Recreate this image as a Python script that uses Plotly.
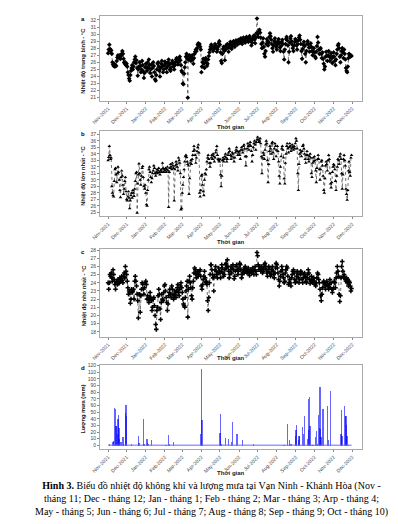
import plotly.graph_objects as go
import pandas as pd

# ---------------- data ----------------
start_date = "2021-11-01"
month_lengths = [30, 31, 31, 28, 31, 30, 31, 30, 31, 31, 30, 31, 30]

tavg = [
    27.3, 27.8, 28.5, 27.9, 27.6, 27.7, 27.2, 26.0, 25.7, 25.5, 25.8, 25.4, 25.6, 25.5, 26.2, 26.7, 27.0, 26.8, 26.6, 27.0, 26.5, 26.9, 27.2, 27.6, 27.2, 26.5, 26.0, 25.8, 26.0, 25.6,
    25.8, 25.4, 24.6, 24.2, 23.7, 23.4, 24.2, 24.8, 25.2, 25.6, 25.0, 25.4, 26.0, 26.4, 26.8, 25.9, 26.3, 25.2, 24.1, 25.0, 25.4, 26.0, 25.5, 24.6, 25.0, 26.2, 25.6, 24.7, 23.8, 24.5, 25.3,
    25.8, 25.3, 24.8, 26.0, 25.2, 26.4, 25.6, 24.5, 25.0, 25.7, 24.0, 25.2, 26.0, 25.5, 24.6, 23.6, 23.4, 24.2, 25.0, 25.8, 26.0, 25.4, 24.8, 24.0, 25.2, 25.8, 26.2, 25.5, 24.6, 25.0, 25.6,
    26.1, 25.8, 25.2, 24.6, 25.4, 26.0, 26.4, 25.7, 25.0, 24.8, 25.3, 25.9, 26.2, 25.8, 25.4, 25.0, 25.6, 26.0, 26.4, 26.6, 26.2, 25.7, 26.0, 26.5, 26.8, 26.3, 25.6, 24.8,
    24.6, 23.0, 22.9, 24.4, 25.3, 26.0, 26.8, 27.2, 26.5, 21.0, 26.4, 26.9, 27.0, 26.6, 26.2, 26.7, 27.0, 26.4, 25.8, 26.6, 27.2, 27.5, 27.8, 27.6, 28.0, 28.5, 28.7, 28.4, 28.6, 28.2, 27.8,
    24.6, 25.4, 26.0, 26.5, 25.8, 25.2, 26.3, 26.6, 26.0, 25.5, 25.8, 26.4, 26.9, 27.4, 27.8, 28.2, 28.5, 28.3, 28.0, 27.6, 27.9, 28.2, 28.6, 28.4, 28.0, 27.5, 27.8, 28.2, 28.7, 29.0,
    28.5, 27.4, 26.2, 25.9, 27.2, 27.9, 28.2, 27.6, 26.3, 27.8, 28.4, 28.0, 28.6, 28.2, 27.5, 28.1, 28.6, 28.9, 28.4, 27.9, 28.3, 28.8, 29.0, 28.6, 28.2, 28.7, 29.1, 28.8, 28.5, 28.9, 29.2,
    29.0, 28.7, 29.2, 29.4, 28.9, 28.6, 29.1, 29.5, 29.3, 29.0, 28.8, 29.3, 29.6, 29.4, 29.1, 28.9, 29.5, 29.7, 29.4, 29.0, 28.4, 28.8, 29.3, 29.6, 29.8, 29.2, 28.7, 29.5, 30.1, 32.2,
    30.0, 29.6, 30.4, 30.6, 30.2, 29.5, 28.6, 28.0, 28.8, 29.4, 28.2, 27.2, 26.8, 27.6, 28.6, 29.3, 29.0, 28.4, 28.8, 29.6, 30.1, 29.7, 29.2, 28.6, 28.0, 27.5, 28.4, 29.0, 29.4, 28.8, 28.2,
    27.8, 28.5, 29.0, 29.3, 28.7, 28.1, 27.6, 28.3, 28.9, 29.2, 28.6, 27.5, 26.4, 27.8, 28.6, 29.3, 29.6, 29.1, 28.4, 26.0, 27.5, 28.8, 29.4, 29.7, 29.0, 28.5, 28.0, 27.6, 28.4, 28.9, 29.3,
    29.0, 28.4, 27.8, 28.6, 29.1, 29.5, 29.8, 29.2, 28.6, 27.6, 26.5, 27.9, 28.5, 28.9, 28.3, 27.2, 26.0, 27.6, 28.6, 29.0, 28.6, 28.1, 27.5, 28.2, 28.7, 28.2, 27.6, 27.0, 27.5, 28.0,
    27.4, 26.8, 26.6, 27.5, 28.3, 29.6, 28.8, 27.8, 27.2, 27.8, 28.0, 27.2, 26.6, 27.4, 26.5, 25.8, 25.0, 25.4, 26.8, 27.5, 26.9, 26.2, 27.0, 27.6, 26.8, 26.2, 26.8, 27.3, 26.6, 25.9, 26.8,
    27.4, 26.8, 26.2, 25.6, 26.4, 27.2, 27.8, 28.4, 28.6, 28.0, 26.8, 26.0, 27.0, 27.6, 28.0, 27.4, 26.6, 27.8, 27.2, 26.4, 25.2, 24.8, 24.6, 25.4, 26.6, 27.2, 27.0, 26.8, 27.0, 26.9,
]

tmax = [
    33.0, 33.5, 35.2, 33.8, 33.2, 33.4, 29.0, 28.0, 27.6, 27.4, 29.8, 31.6, 31.8, 30.8, 29.6, 31.0, 32.0, 31.2, 30.0, 28.4, 27.3, 30.4, 31.4, 30.6, 29.2, 27.8, 28.6, 29.8, 30.4, 28.2,
    27.0, 26.8, 27.4, 28.2, 27.2, 25.6, 26.8, 27.6, 28.0, 27.2, 28.4, 28.0, 27.5, 28.6, 29.8, 31.0, 31.2, 24.9, 29.4, 30.8, 32.5, 31.0, 30.0, 29.2, 30.6, 31.8, 32.1, 30.4, 29.0, 28.6, 29.2,
    28.0, 26.2, 26.0, 28.4, 30.0, 31.6, 32.0, 31.2, 30.4, 29.6, 30.2, 31.0, 31.4, 32.2, 31.8, 31.0, 30.6, 31.2, 31.6, 31.0, 31.4, 31.8, 31.2, 30.8, 31.4, 31.6, 31.2, 32.6, 31.8, 31.2, 31.6,
    31.4, 31.8, 31.2, 31.6, 32.0, 31.4, 25.8, 31.2, 31.8, 32.4, 32.0, 31.6, 32.6, 32.2, 31.8, 26.8, 31.6, 32.2, 32.8, 32.4, 32.0, 31.4, 33.4, 33.0, 32.6, 31.0, 25.4, 25.6,
    28.0, 29.2, 30.4, 31.6, 32.8, 33.6, 33.8, 33.5, 32.8, 32.4, 32.2, 27.8, 30.2, 32.6, 33.0, 32.4, 33.2, 33.8, 34.4, 35.2, 34.6, 33.8, 32.6, 33.4, 34.4, 35.0, 35.4, 34.2, 28.0, 27.4, 28.4,
    30.6, 30.8, 29.2, 28.2, 27.6, 30.0, 31.0, 30.8, 31.6, 32.8, 33.4, 33.8, 33.2, 32.6, 32.0, 32.6, 33.4, 33.8, 33.2, 34.0, 33.6, 32.8, 33.4, 34.2, 34.6, 35.2, 33.8, 33.2, 33.0, 32.8,
    33.2, 30.8, 29.0, 30.6, 33.0, 33.4, 32.8, 33.2, 33.6, 34.0, 33.4, 32.8, 33.2, 33.8, 34.2, 34.8, 34.4, 33.8, 33.2, 33.6, 34.2, 34.0, 33.4, 32.8, 33.4, 34.2, 34.6, 35.0, 34.4, 33.8, 34.2,
    34.4, 33.8, 33.2, 34.6, 35.0, 34.6, 34.2, 35.2, 35.4, 34.8, 33.6, 32.2, 33.6, 34.8, 35.6, 35.2, 34.6, 35.4, 35.8, 35.2, 34.4, 32.8, 33.8, 35.0, 35.6, 36.0, 35.4, 34.6, 35.8, 36.2,
    36.6, 36.2, 35.8, 36.0, 36.4, 35.6, 33.6, 31.0, 33.4, 34.2, 33.8, 33.2, 34.6, 35.4, 36.0, 35.6, 33.0, 29.6, 32.4, 34.4, 35.2, 34.8, 34.0, 35.6, 35.8, 34.2, 33.2, 34.8, 35.6, 35.2, 33.6,
    34.6, 35.2, 34.4, 32.8, 30.6, 29.4, 32.0, 33.6, 34.8, 35.2, 34.6, 33.4, 30.2, 29.4, 32.6, 34.0, 35.2, 35.6, 34.8, 34.2, 35.0, 35.6, 35.2, 34.4, 34.8, 35.4, 35.0, 34.6, 35.2, 34.8, 35.6,
    36.4, 36.0, 34.8, 31.0, 28.4, 32.4, 34.0, 34.6, 34.2, 33.6, 34.4, 35.2, 35.4, 34.8, 34.0, 33.2, 32.6, 33.8, 34.4, 33.8, 33.2, 32.8, 33.6, 34.0, 33.4, 31.0, 30.4, 32.6, 33.4, 32.8,
    33.6, 33.0, 31.4, 29.6, 31.8, 33.2, 33.8, 33.2, 31.6, 30.0, 31.6, 32.8, 33.0, 32.2, 30.6, 28.4, 28.0, 30.2, 32.2, 32.8, 32.4, 31.4, 33.0, 33.8, 33.2, 31.0, 29.4, 28.8, 29.6, 31.2, 32.0,
    32.4, 32.2, 31.6, 29.8, 28.4, 30.6, 32.0, 33.2, 33.0, 32.4, 33.6, 34.0, 33.2, 31.0, 28.6, 30.8, 33.2, 33.8, 33.0, 32.2, 28.6, 27.8, 26.9, 28.4, 31.4, 32.8, 31.2, 30.6, 33.4, 33.8,
]

tmin = [
    24.0, 23.2, 24.0, 25.0, 24.8, 25.2, 24.6, 24.2, 25.6, 25.0, 24.4, 23.8, 23.2, 24.0, 24.2, 23.8, 24.4, 23.9, 24.0, 24.6, 24.2, 24.5, 24.8, 24.3, 24.0, 24.8, 25.2, 24.6, 26.0, 25.4,
    25.0, 24.2, 23.4, 22.6, 23.0, 22.8, 21.5, 22.0, 23.2, 22.8, 23.0, 23.2, 22.0, 24.2, 24.8, 24.2, 23.6, 22.6, 21.8, 19.7, 22.6, 22.6, 20.4, 22.4, 23.2, 24.0, 23.8, 23.2, 22.6, 23.4, 24.0,
    24.2, 23.8, 22.0, 22.4, 22.0, 21.6, 22.2, 22.8, 22.2, 21.8, 20.6, 21.0, 22.0, 22.2, 21.2, 20.0, 18.9, 18.3, 20.6, 21.0, 22.4, 23.2, 22.6, 20.8, 19.5, 21.6, 22.6, 22.0, 21.8, 22.8, 23.6,
    23.8, 23.0, 22.2, 21.6, 20.6, 21.4, 22.4, 22.8, 23.2, 22.6, 22.2, 23.6, 23.2, 22.6, 22.0, 22.4, 23.0, 22.6, 22.2, 23.0, 23.4, 23.8, 22.8, 22.4, 23.2, 23.6, 24.0, 23.4,
    22.8, 22.0, 21.4, 21.2, 21.0, 22.2, 23.0, 23.6, 24.2, 19.8, 23.2, 24.2, 24.8, 24.0, 23.4, 22.4, 22.0, 23.4, 24.2, 25.2, 25.8, 25.6, 25.0, 24.6, 25.2, 25.4, 24.8, 25.0, 25.4, 25.6, 24.8,
    23.6, 23.2, 23.8, 24.4, 24.8, 25.4, 24.6, 24.0, 24.2, 23.8, 21.8, 20.6, 22.2, 24.0, 25.0, 26.2, 26.2, 25.6, 25.0, 24.6, 23.0, 24.8, 25.6, 26.0, 25.4, 25.0, 24.6, 25.2, 25.8, 25.4,
    25.2, 24.6, 25.4, 26.2, 25.8, 25.2, 24.8, 25.0, 25.6, 26.2, 26.4, 25.8, 26.8, 26.0, 25.4, 24.6, 25.0, 25.6, 26.0, 25.2, 25.8, 26.2, 25.6, 24.5, 24.8, 25.4, 26.0, 26.2, 25.6, 25.0, 25.4,
    25.8, 26.4, 26.2, 25.6, 24.6, 25.0, 25.2, 25.6, 25.2, 25.8, 26.0, 25.6, 25.4, 25.2, 25.6, 25.8, 25.2, 24.9, 25.4, 25.6, 25.2, 25.5, 25.8, 25.4, 25.0, 25.6, 26.0, 25.4, 25.0, 27.7,
    27.3, 26.2, 25.6, 26.0, 25.8, 25.4, 26.0, 25.6, 25.2, 25.4, 25.8, 26.2, 26.4, 26.0, 25.6, 25.2, 24.8, 25.4, 26.0, 25.8, 25.2, 24.8, 25.0, 25.6, 26.0, 25.4, 25.0, 24.6, 25.2, 25.8, 26.4,
    26.2, 25.8, 25.2, 24.4, 23.6, 24.2, 24.8, 25.4, 26.0, 25.6, 25.0, 24.6, 24.0, 24.2, 25.2, 25.6, 26.0, 25.8, 24.8, 23.8, 24.0, 24.4, 24.0, 23.6, 24.6, 25.0, 25.4, 25.6, 25.2, 24.4, 24.0,
    24.2, 24.8, 25.4, 25.2, 24.6, 24.0, 24.4, 25.0, 25.4, 25.2, 24.4, 24.0, 24.6, 25.0, 25.2, 24.8, 24.2, 24.0, 24.6, 25.0, 25.6, 25.2, 24.4, 23.9, 24.2, 24.8, 24.4, 24.0, 24.2, 24.6,
    24.2, 23.8, 23.6, 24.0, 24.6, 25.2, 25.0, 24.4, 24.0, 23.2, 22.4, 21.8, 22.6, 23.4, 24.0, 24.2, 24.0, 23.6, 23.2, 23.8, 24.2, 23.9, 23.5, 23.2, 23.8, 24.4, 23.4, 24.0, 23.2, 22.8, 23.2,
    23.4, 24.2, 24.0, 23.4, 24.6, 25.2, 26.0, 25.4, 24.8, 22.6, 21.7, 22.4, 24.6, 26.0, 26.6, 25.4, 24.8, 25.0, 24.6, 24.4, 24.2, 24.6, 24.0, 24.4, 23.6, 24.2, 24.0, 23.6, 23.0, 23.3,
]

rain_dates = [
    "2021-11-03", "2021-11-09", "2021-11-10", "2021-11-11", "2021-11-13", "2021-11-14", "2021-11-15", "2021-11-16",
    "2021-11-17", "2021-11-18", "2021-11-19", "2021-11-20", "2021-11-22", "2021-11-25", "2021-11-26", "2021-11-29",
    "2021-11-30", "2021-12-01", "2021-12-09", "2021-12-20", "2021-12-21", "2021-12-28", "2021-12-29", "2022-01-03",
    "2022-01-04", "2022-01-05", "2022-01-10", "2022-02-03", "2022-02-07", "2022-02-09", "2022-02-15", "2022-03-31",
    "2022-04-01", "2022-04-02", "2022-05-01", "2022-05-02", "2022-05-03", "2022-05-10", "2022-05-15", "2022-05-20",
    "2022-05-21", "2022-05-29", "2022-06-07", "2022-06-24", "2022-08-13", "2022-08-18", "2022-08-22", "2022-08-24",
    "2022-08-31", "2022-09-01", "2022-09-02", "2022-09-05", "2022-09-06", "2022-09-07", "2022-09-12", "2022-09-13",
    "2022-09-15", "2022-09-20", "2022-09-21", "2022-09-22", "2022-09-23", "2022-09-24", "2022-09-27", "2022-09-29",
    "2022-10-03", "2022-10-04", "2022-10-06", "2022-10-08", "2022-10-09", "2022-10-10", "2022-10-11", "2022-10-12",
    "2022-10-15", "2022-10-22", "2022-10-24", "2022-10-27", "2022-11-13", "2022-11-14", "2022-11-15", "2022-11-19",
    "2022-11-20", "2022-11-21", "2022-11-22", "2022-11-23", "2022-11-25",
]
rain_mm = [
    2, 5, 7, 57, 56, 30, 30, 17,
    40, 46, 27, 10, 5, 13, 2, 49,
    62, 44, 3, 15, 4, 40, 3, 10,
    4, 2, 8, 1, 16, 2, 5, 18,
    116, 38, 19, 47, 3, 12, 10, 6,
    36, 18, 9, 3, 1, 32, 9, 2,
    14, 24, 31, 8, 15, 15, 28, 17,
    44, 10, 24, 70, 73, 30, 1, 1,
    13, 22, 2, 46, 27, 89, 25, 13,
    55, 60, 8, 83, 17, 53, 15, 60,
    44, 45, 31, 14, 1,
]

y_titles = ["Nhiệt độ trung bình - °C", "Nhiệt độ lớn nhất - °C", "Nhiệt độ nhỏ nhất - °C", "Lượng mưa (mm)"]
panel_letters = ["a", "b", "c", "d"]
x_title = "Thời gian"
caption = ("<b>Hình 3.</b> Biểu đồ nhiệt độ không khí và lượng mưa tại Vạn Ninh - Khánh Hòa (Nov -<br>"
           "tháng 11; Dec - tháng 12; Jan - tháng 1; Feb - tháng 2; Mar - tháng 3; Arp - tháng 4;<br>"
           "May - tháng 5; Jun - tháng 6; Jul - tháng 7; Aug - tháng 8; Sep - tháng 9; Oct - tháng 10)")

# ---------------- figure ----------------
W, H = 398, 524
dates = pd.date_range(start_date, periods=sum(month_lengths), freq="D")

def py(px):  # pixel from top -> paper y
    return 1 - px / H

def px_(x):
    return x / W

boxes = [(6, 91), (121, 207), (240, 328), (356, 441)]
yranges = [[20.58, 32.56], [24.4, 37.6], [17.4, 28.12], [-6, 121.5]]
ydticks = [1, 1, 1, 10]
xtitle_y = [117, 233, 349, 465]

fig = go.Figure()

line_style = dict(color="#333333", width=0.7, dash="dot")
fig.add_trace(go.Scatter(x=dates, y=tavg, mode="lines+markers", line=line_style,
                         marker=dict(symbol="diamond", size=3.6, color="black"),
                         xaxis="x", yaxis="y", showlegend=False))
fig.add_trace(go.Scatter(x=dates, y=tmax, mode="lines+markers", line=line_style,
                         marker=dict(symbol="triangle-up", size=3.2, color="black"),
                         xaxis="x2", yaxis="y2", showlegend=False))
fig.add_trace(go.Scatter(x=dates, y=tmin, mode="lines+markers", line=line_style,
                         marker=dict(symbol="cross", size=3.8, color="black"),
                         xaxis="x3", yaxis="y3", showlegend=False))
fig.add_trace(go.Scatter(x=[dates[0], dates[-1]], y=[0, 0], mode="lines",
                         line=dict(color="rgba(110,110,255,0.7)", width=1.5),
                         xaxis="x4", yaxis="y4", showlegend=False))
fig.add_trace(go.Bar(x=pd.to_datetime(rain_dates), y=rain_mm, width=2.2 * 86400000,
                     marker=dict(color="rgba(0,0,255,0.6)", line=dict(width=0)),
                     xaxis="x4", yaxis="y4", showlegend=False))

xr = [pd.Timestamp("2021-10-19"), pd.Timestamp("2022-12-17")]
tickfont = dict(size=5, color="#444444", family="Arial, Liberation Sans, sans-serif")

layout = dict(width=W, height=H, margin=dict(l=0, r=0, t=0, b=0),
              paper_bgcolor="white", plot_bgcolor="white", bargap=0,
              font=dict(family="Liberation Sans, Arial, sans-serif", color="black"))
annotations = []
for i, (top, bot) in enumerate(boxes):
    sx = "" if i == 0 else str(i + 1)
    layout["xaxis" + sx] = dict(domain=[px_(85), px_(353)], anchor="y" + sx, range=xr,
                                tick0="2021-11-01", dtick="M1", tickformat="%b-%Y",
                                tickangle=-45, tickfont=tickfont, ticks="outside", ticklen=2,
                                tickcolor="#888888", showgrid=False, zeroline=False,
                                showline=True, linecolor="#aaaaaa", linewidth=1, mirror=True)
    layout["yaxis" + sx] = dict(domain=[py(bot), py(top)], anchor="x" + sx, range=yranges[i],
                                dtick=ydticks[i], tickfont=tickfont, ticks="outside", ticklen=2,
                                tickcolor="#888888", showgrid=False, zeroline=False,
                                showline=True, linecolor="#aaaaaa", linewidth=1, mirror=True)
    annotations.append(dict(text="<b>%s</b>" % panel_letters[i], x=px_(68), y=py(top + 3),
                            xref="paper", yref="paper", showarrow=False,
                            font=dict(size=6), xanchor="center", yanchor="middle"))
    annotations.append(dict(text="<b>%s</b>" % y_titles[i], x=px_(68), y=py((top + bot) / 2 + 2),
                            xref="paper", yref="paper", showarrow=False, textangle=-90,
                            font=dict(size=5.8, color="#111111"), xanchor="center", yanchor="middle"))
    annotations.append(dict(text="<b>%s</b>" % x_title, x=px_(219), y=py(xtitle_y[i]),
                            xref="paper", yref="paper", showarrow=False,
                            font=dict(size=6, color="#222222"), xanchor="center", yanchor="middle"))

annotations.append(dict(text=caption, x=0.5, y=py(491), xref="paper", yref="paper",
                        showarrow=False, align="center", xanchor="center", yanchor="middle",
                        font=dict(size=10.0, family="Liberation Serif, Times New Roman, serif", color="black")))
layout["annotations"] = annotations
layout["shapes"] = [dict(type="line", xref="paper", yref="paper", x0=px_(10), x1=px_(388),
                         y0=py(521), y1=py(521), line=dict(color="#555555", width=3))]
fig.update_layout(**layout)
fig.write_html("out.html")
